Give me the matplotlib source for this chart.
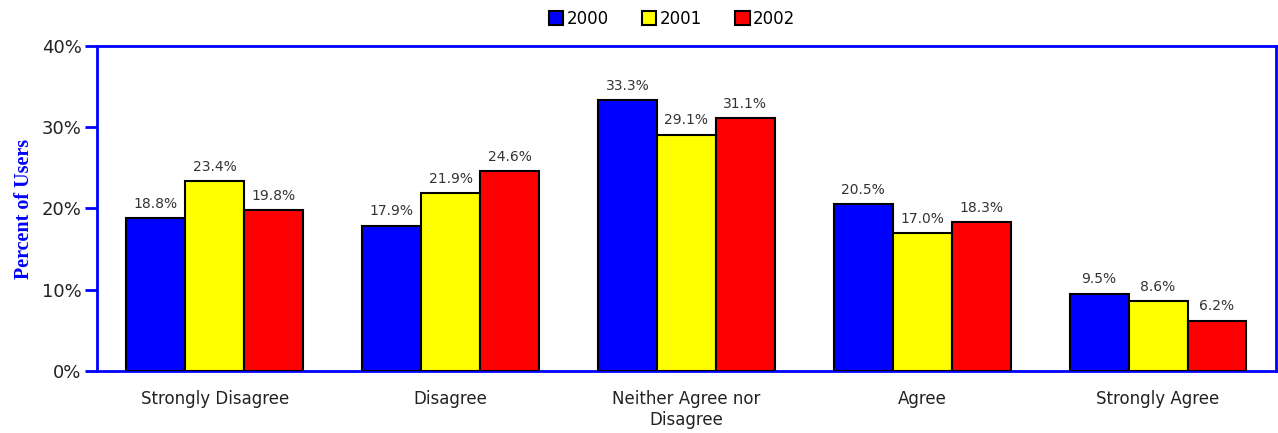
import matplotlib
matplotlib.use('Agg')
import matplotlib.pyplot as plt
import numpy as np
from matplotlib.patches import Patch

categories = ['Strongly Disagree', 'Disagree', 'Neither Agree nor\nDisagree', 'Agree', 'Strongly Agree']
years = ['2000', '2001', '2002']
vals_2000 = [18.8, 17.9, 33.3, 20.5, 9.5]
vals_2001 = [23.4, 21.9, 29.1, 17.0, 8.6]
vals_2002 = [19.8, 24.6, 31.1, 18.3, 6.2]
yticks = [0, 10, 20, 30, 40]

colors = ['#0000ff', '#ffff00', '#ff0000']
series = [vals_2000, vals_2001, vals_2002]

fig = plt.figure(figsize=(12.78, 4.33), dpi=100)
ax = fig.add_axes([0.0759, 0.1432, 0.9225, 0.7506])

x = np.arange(len(categories))
w = 0.25
for i, (vals, c) in enumerate(zip(series, colors)):
    pos = x + (i - 1) * w
    ax.bar(pos, vals, width=w, color=c, edgecolor='black', linewidth=1.5, zorder=3)
    for px, v in zip(pos, vals):
        ax.text(px, v + 0.9, f'{v:.1f}%', ha='center', va='bottom',
                fontsize=10, color='#333333')

ax.set_xlim(-0.5, len(categories) - 0.5)
ax.set_ylim(0, 40)
ax.set_yticks(yticks)
ax.set_yticklabels([f'{t}%' for t in yticks], fontsize=13, color='#222222')
ax.set_xticks(x)
ax.set_xticklabels(categories, fontsize=12, color='#222222')
ax.tick_params(axis='x', length=0, pad=14)
ax.tick_params(axis='y', length=9, width=2, color='#0000ff', direction='out', pad=2)
for s in ax.spines.values():
    s.set_color('#0000ff')
    s.set_linewidth(2)

ax.set_ylabel('Percent of Users', family='Liberation Serif', fontweight='bold',
              fontsize=14.5, color='#0000ff', labelpad=6)

handles = [Patch(facecolor=c, edgecolor='black', linewidth=1.5) for c in colors]
fig.legend(handles, years, loc='upper center', bbox_to_anchor=(0.526, 1.012), ncol=3,
           frameon=False, fontsize=12, handlelength=0.85, handleheight=0.85,
           handletextpad=0.2, columnspacing=2.0)

fig.savefig('out.png', dpi=100)
